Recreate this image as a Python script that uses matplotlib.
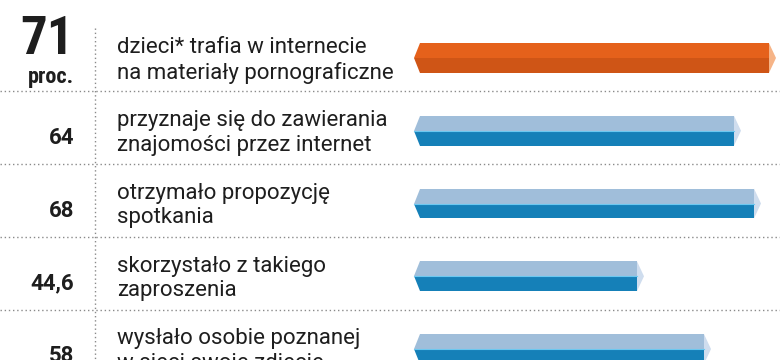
"""Poziomy wykres słupkowy 3D: dzieci w internecie (procent)."""
import matplotlib
matplotlib.use("Agg")
import matplotlib.pyplot as plt
from matplotlib import font_manager
from matplotlib.transforms import blended_transform_factory


def first_font(cands):
    names = {f.name for f in font_manager.fontManager.ttflist}
    for fam in cands:
        if fam in names:
            return fam
    return "DejaVu Sans"


COND = first_font(["Roboto Condensed", "Liberation Sans Narrow", "Roboto"])
PLAIN = first_font(["Roboto", "Liberation Sans"])
plt.rcParams["font.family"] = [PLAIN, "DejaVu Sans"]

# data
values = [71, 64, 68, 44.6, 58]
value_labels = ["71", "64", "68", "44,6", "58"]
labels = [
    "dzieci* trafia w internecie\nna materiały pornograficzne",
    "przyznaje się do zawierania\nznajomości przez internet",
    "otrzymało propozycję\nspotkania",
    "skorzystało z takiego\nzaproszenia",
    "wysłało osobie poznanej\nw sieci swoje zdjęcie",
]
highlight = [True, False, False, False, False]

# colours: (top face, bottom face, end cap)
ORANGE = ("#E5611B", "#CF5516", "#F6B487")
BLUE = ("#A0BEDA", "#1580B8", "#CFDDEE")
SEAM = "#6CC8F0"
TXT = "#1e1e1e"
DOT = "#8a8a8a"

HALF = 0.205   # bar half-height in row units
BEVEL = 1.2    # left bevel depth (value units)
CAP = 1.4      # right cap depth (value units)

fig = plt.figure(figsize=(7.8, 3.6), dpi=100)
ax = fig.add_axes([0, 0, 1, 1])
ax.set_xlim(-82.8, 73.2)
ax.set_ylim(4.151, -0.797)
ax.axis("off")

fx = blended_transform_factory(fig.transFigure, ax.transData)

for i, (v, hl) in enumerate(zip(values, highlight)):
    top_c, bot_c, cap_c = ORANGE if hl else BLUE
    t, m, b = i - HALF, i, i + HALF
    ax.fill([BEVEL, v, v, 0], [t, t, m, m], color=top_c, lw=0)
    ax.fill([0, v, v, BEVEL], [m, m, b, b], color=bot_c, lw=0)
    ax.fill([v, v + CAP, v], [t, m, b], color=cap_c, lw=0)
    if not hl:
        ax.plot([0, v], [m, m], color=SEAM, lw=0.8)

    ax.text(117 / 780, i + 0.03, labels[i], transform=fx, ha="left", va="center",
            fontsize=16, color=TXT, linespacing=1.22)
    if i == 0:
        ax.text(74 / 780, -0.26, value_labels[i], transform=fx, ha="right",
                va="center", fontsize=38, fontweight="bold", color=TXT,
                family=[COND, "DejaVu Sans"])
        ax.text(74 / 780, 0.26, "proc.", transform=fx, ha="right",
                va="center", fontsize=16, fontweight="bold", color=TXT,
                family=[COND, "DejaVu Sans"])
    else:
        ax.text(74 / 780, i + 0.1, value_labels[i], transform=fx, ha="right",
                va="center", fontsize=16, fontweight="bold", color=TXT)

# dotted separators
for i in range(len(values) - 1):
    ax.plot([0, 1], [i + 0.46, i + 0.46], transform=fx, color=DOT, lw=1,
            ls=(0, (1, 2)), clip_on=False)
ax.plot([95 / 780, 95 / 780], [-0.41, 4.2], transform=fx, color=DOT, lw=1,
        ls=(0, (1, 2)), clip_on=False)

fig.savefig("out.png", dpi=100)
